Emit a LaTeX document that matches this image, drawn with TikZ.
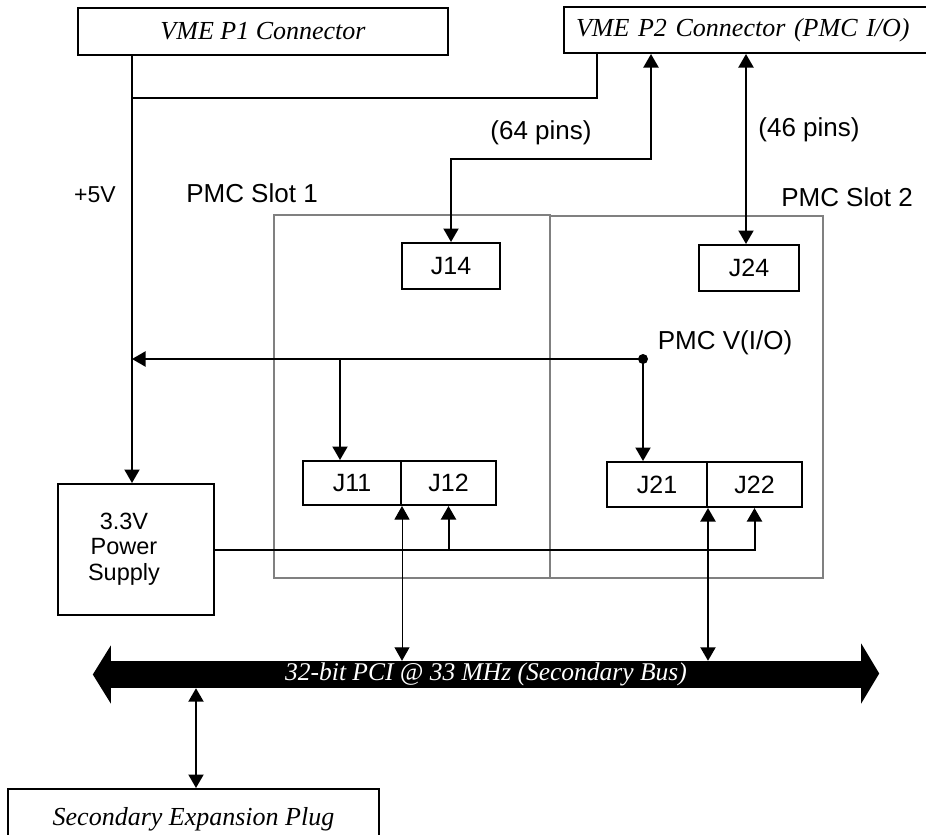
\documentclass[tikz,border=0pt]{standalone}
\usepackage{fontspec}
\setmainfont{Liberation Sans}
\newfontfamily\serifrm{Liberation Serif}
\usetikzlibrary{arrows.meta}
\tikzset{
  ln/.style={line width=2pt},
  thin ln/.style={line width=1pt},
  tipA/.tip={Triangle[length=13.5pt,width=15pt]},
  arr/.style={-tipA},
  arrb/.style={tipA-tipA},
  slotbox/.style={draw=black!50, line width=2pt, inner sep=0pt},
  conbox/.style={draw, line width=2pt, inner sep=0pt, minimum height=46pt, font=\fontsize{25}{30}\selectfont},
  serbox/.style={draw, line width=2pt, inner sep=0pt, font=\serifrm\itshape\fontsize{26}{30}\selectfont},
  lbl/.style={inner sep=0pt, font=\fontsize{26}{30}\selectfont},
}
\begin{document}
\begin{tikzpicture}[x=1pt,y=-1pt]
\useasboundingbox (0,0) rectangle (926,835);
\clip (0,0) rectangle (926,835);

% PMC slots
\node[slotbox, minimum width=276pt, minimum height=363pt] (slot1) at (412,396.5) {};
\node[slotbox, minimum width=273pt, minimum height=362pt] (slot2) at (686.5,397) {};

% VME connectors
\node[serbox, minimum width=370pt, minimum height=47pt] (p1) at (263,31.5) {VME P1 Connector};
\node[serbox, minimum width=370pt, minimum height=46pt, text width=356pt, align=left] (p2) at (749,30) {\hspace*{5pt}VME P2 Connector (PMC I/O)};

% J connectors
\node[conbox, minimum width=98pt] (j14) at (451,266) {J14};
\node[conbox, minimum width=100pt] (j24) at (749,268) {J24};
\node[conbox, minimum width=98pt, minimum height=44pt] (j11) at (352,483) {J11};
\node[conbox, minimum width=95pt, minimum height=44pt] (j12) at (448.5,483) {J12};
\node[conbox, minimum width=100pt, minimum height=45pt] (j21) at (657,484.5) {J21};
\node[conbox, minimum width=95pt, minimum height=45pt] (j22) at (754.5,484.5) {J22};

% power supply
\node[draw, line width=2pt, minimum width=156pt, minimum height=131pt, inner sep=0pt] (ps) at (136,549.5) {};
\node[inner sep=0pt, align=center, font=\fontsize{23.5}{25.5}\selectfont] (pslbl) at (124,549) {3.3V\\Power\\Supply};

% bus
\node[fill=black, minimum width=752pt, minimum height=27pt, inner sep=0pt, text=white,
      font=\serifrm\itshape\fontsize{25.5}{27}\selectfont] (bus) at (486,674.5) {32-bit PCI @ 33 MHz (Secondary Bus)};
\fill ([xshift=1pt,yshift=29pt]bus.west) -- ([xshift=-17pt]bus.west) -- ([xshift=1pt,yshift=-29pt]bus.west) -- cycle;
\fill ([xshift=-1pt,yshift=31pt]bus.east) -- ([xshift=17pt,yshift=1pt]bus.east) -- ([xshift=-1pt,yshift=-29pt]bus.east) -- cycle;

% expansion plug
\node[serbox, anchor=north, minimum width=371pt, inner ysep=0pt, text height=36pt, text depth=30pt] (exp) at (193.5,788) {Secondary Expansion Plug};

% labels
\node[lbl, font=\fontsize{23}{28}\selectfont] (l5v) at (95,195) {+5V};
\node[lbl] (ls1) at (252,193) {PMC Slot 1};
\node[lbl] (ls2) at (847,197) {PMC Slot 2};
\node[lbl] (l64) at (541,133) {(64 pins)};
\node[lbl] (l46) at (809,130) {(46 pins)};
\node[lbl] (lvio) at (725,343) {PMC V(I/O)};

% coordinates
\coordinate (jn) at (132,98);
\coordinate (p2tap) at (597,98);
\coordinate (k64) at (651,159);
\coordinate (tap1) at (340,359);
\coordinate (dot) at (643,359);
\coordinate (k46) at (746,0);
\coordinate (kexp) at (196,0);

% +5V feed
\draw[ln, arr] (p1.south -| jn) -- (jn |- ps.north);
\draw[ln] (jn) -- (p2tap) -- (p2tap |- p2.south);

% P2 to J14 / J24
\draw[ln, arrb] (k64 |- p2.south) -- (k64) -| (j14.north);
\draw[ln, arrb] (k46 |- p2.south) -- (k46 |- j24.north);

% PMC V(I/O)
\draw[ln, arr] (dot) -- (dot -| jn);
\draw[ln, arr] (tap1) -- (tap1 |- j11.north);
\draw[ln, arr] (dot) -- (dot |- j21.north);
\fill (dot) circle (5pt);

% 3.3V supply
\draw[ln, arr] (ps.east) -| (j22.south);
\draw[ln, arr] (j12.south |- ps.east) -- (j12.south);

% PCI bus links
\draw[thin ln, arrb] (j11.south east) -- (j11.south east |- bus.north);
\draw[ln, arrb] (j21.south east) -- (j21.south east |- bus.north);
\draw[ln, arrb] (kexp |- bus.south) -- (kexp |- exp.north);
\end{tikzpicture}
\end{document}
